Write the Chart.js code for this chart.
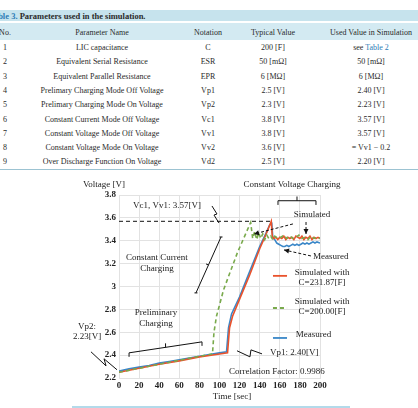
<!DOCTYPE html>
<html><head><meta charset="utf-8">
<script src="https://cdn.jsdelivr.net/npm/chart.js@4.4.0/dist/chart.umd.min.js"></script>
<style>
html,body{margin:0;padding:0;background:#fff;}
body{width:418px;height:408px;position:relative;overflow:hidden;font-family:"Liberation Serif","Times New Roman",serif;color:#2a2a2a;}
.band{position:absolute;left:0;width:418px;background:#c6e3ed;}
.cell{position:absolute;font-size:8px;white-space:nowrap;transform:translate(-50%,-50%);line-height:1;}
.blue{color:#2c7bb5;}
#cap{position:absolute;left:-11px;top:16px;transform:translateY(-50%);font-size:8.5px;font-weight:bold;white-space:nowrap;line-height:1;}
#chartBox{position:absolute;left:0;top:170px;width:418px;height:238px;}
</style></head><body>
<div class="band" style="top:10px;height:11px;"></div>
<div class="band" style="top:23px;height:17px;background:#d3eaf2;"></div>
<div id="cap"><span class="blue">Table 3.</span> Parameters used in the simulation.</div>
<div id="tbl"></div>
<div style="position:absolute;left:0;top:169px;width:418px;height:1px;background:#9cc3d2;"></div>
<div style="position:absolute;left:72px;top:406px;width:278px;height:2px;background:#b3daea;"></div>
<div id="chartBox"><canvas id="c" width="418" height="238"></canvas></div>
<script>
// ---------- table content ----------
const tableHeaders = ["No.", "Parameter Name", "Notation", "Typical Value", "Used Value in Simulation"];
const paramNo = ["1","2","3","4","5","6","7","8","9"];
const paramNames = ["LIC capacitance","Equivalent Serial Resistance","Equivalent Parallel Resistance","Prelimary Charging Mode Off Voltage","Prelimary Charging Mode On Voltage","Constant Current Mode Off Voltage","Constant Voltage Mode Off Voltage","Constant Voltage Mode On Voltage","Over Discharge Function On Voltage"];
const notations = ["C","ESR","EPR","Vp1","Vp2","Vc1","Vv1","Vv2","Vd2"];
const typicalValues = ["200 [F]","50 [mΩ]","6 [MΩ]","2.5 [V]","2.3 [V]","3.8 [V]","3.8 [V]","3.6 [V]","2.5 [V]"];
const usedValues = ["see Table 2","50 [mΩ]","6 [MΩ]","2.40 [V]","2.23 [V]","3.57 [V]","3.57 [V]","= Vv1 − 0.2","2.20 [V]"];

// ---------- chart data ----------
const xTicks = [0,20,40,60,80,100,120,140,160,180,200];
const xTickLabels = ["0","20","40","60","80","100","120","140","160","180","200"];
const yTicks = [2.2,2.4,2.6,2.8,3.0,3.2,3.4,3.6,3.8];
const yTickLabels = ["2.2","2.4","2.6","2.8","3","3.2","3.4","3.6","3.8"];

// Simulated with C=231.87[F]
const tRed = [0,20,40,60,80,100,108,110,113,120,130,140,146,151.5,152.5,154,156,158,160,162,164,166,168,170,172,174,176,178,180,182,184,186,188,190,192,194,196,198,200];
const vRed = [2.25,2.285,2.32,2.35,2.385,2.41,2.42,2.64,2.74,2.89,3.10,3.33,3.45,3.57,3.44,3.42,3.43,3.41,3.43,3.42,3.44,3.41,3.43,3.42,3.43,3.41,3.44,3.43,3.42,3.44,3.41,3.43,3.42,3.44,3.41,3.43,3.42,3.43,3.42];
// Simulated with C=200.00[F]
const tGreen = [0,20,40,60,80,93,94.5,97,104,118,131,133,135,137,139,141,143,145,147,149,151,153,155,158,161,164,167,170,173,176,179,182,185,188,191,194,197,200];
const vGreen = [2.25,2.285,2.32,2.355,2.39,2.41,2.60,2.74,2.97,3.30,3.56,3.42,3.48,3.41,3.47,3.42,3.46,3.41,3.45,3.42,3.44,3.41,3.44,3.42,3.43,3.45,3.42,3.44,3.42,3.43,3.45,3.42,3.43,3.41,3.44,3.42,3.43,3.42];
// Measured
const tBlue = [0,10,20,30,40,50,60,70,80,90,100,107,109,112,120,130,140,146,150,152,153,155,157,159,161,163,165,167,169,171,173,175,177,179,181,183,185,187,189,191,193,195,197,200];
const vBlue = [2.26,2.28,2.295,2.31,2.33,2.345,2.36,2.375,2.39,2.405,2.42,2.43,2.64,2.76,2.91,3.13,3.35,3.46,3.54,3.55,3.43,3.41,3.38,3.37,3.36,3.35,3.35,3.36,3.35,3.36,3.37,3.36,3.37,3.36,3.37,3.38,3.37,3.38,3.37,3.38,3.39,3.38,3.39,3.38];

const RED = '#e9522c', GREEN = '#79aa4c', BLUE = '#3a87c8';

// ---------- build table ----------
const colX = [5, 102, 208, 273, 371];
const headerY = 33;
const rowY = [48, 62, 77, 91, 105, 120, 134, 148, 162];
const tbl = document.getElementById('tbl');
function cell(html, x, y){ const d=document.createElement('div'); d.className='cell'; d.style.left=x+'px'; d.style.top=y+'px'; d.innerHTML=html; tbl.appendChild(d); }
tableHeaders.forEach((h,i)=>cell(h, colX[i], headerY));
const cols = [paramNo, paramNames, notations, typicalValues, usedValues];
rowY.forEach((y,r)=>{
  cols.forEach((col,c)=>{
    let s = col[r];
    if (s === "see Table 2") s = 'see <span class="blue">Table 2</span>';
    cell(s, colX[c], y);
  });
});

// ---------- chart ----------
const pairs = (ts, vs) => ts.map((t,i)=>({x:t, y:vs[i]}));
const SERIF = '"Liberation Serif", "Times New Roman", serif';

const annot = {
  id: 'annot',
  afterDraw(chart){
    const {ctx, scales:{x, y}} = chart;
    const X = t => x.getPixelForValue(t), Y = v => y.getPixelForValue(v);
    ctx.save();
    const text = (s, t, v, align='center', size=9) => {
      ctx.font = size + 'px ' + SERIF; ctx.fillStyle = '#222';
      ctx.textAlign = align; ctx.textBaseline = 'middle';
      ctx.fillText(s, X(t), Y(v));
    };
    const poly = (pts, dash=[], color='#111', w=1) => {
      ctx.beginPath(); ctx.setLineDash(dash); ctx.strokeStyle = color; ctx.lineWidth = w;
      pts.forEach((p,i)=> i ? ctx.lineTo(X(p[0]),Y(p[1])) : ctx.moveTo(X(p[0]),Y(p[1])));
      ctx.stroke(); ctx.setLineDash([]);
    };
    const arrow = (a, b) => {
      poly([a,b],[3,2]);
      const x1=X(a[0]), y1=Y(a[1]), x2=X(b[0]), y2=Y(b[1]);
      const ang = Math.atan2(y2-y1, x2-x1), L=5, W=2.5;
      ctx.beginPath(); ctx.fillStyle='#111';
      ctx.moveTo(x2,y2);
      ctx.lineTo(x2 - L*Math.cos(ang) + W*Math.sin(ang), y2 - L*Math.sin(ang) - W*Math.cos(ang));
      ctx.lineTo(x2 - L*Math.cos(ang) - W*Math.sin(ang), y2 - L*Math.sin(ang) + W*Math.cos(ang));
      ctx.closePath(); ctx.fill();
    };
    // titles
    text('Voltage [V]', -14.9, 3.887);
    text('Constant Voltage Charging', 172.1, 3.887);
    text('Time [sec]', 112.4, 2.036);
    // CV brace
    poly([[158.2,3.713],[158.2,3.750],[196,3.750],[196,3.713]]);
    poly([[177.1,3.750],[177.1,3.787]]);
    // Vc1 label, 3.57 dashed line
    poly([[0,3.57],[153,3.57]],[4,3]);
    text('Vc1, Vv1: 3.57[V]', 13.9, 3.704, 'left');
    poly([[92.5,3.704],[97.5,3.634],[94.5,3.625],[99.5,3.555]]);
    // Constant current
    text('Constant Current', 37.8, 3.250);
    text('Charging', 37.8, 3.154);
    poly([[76.6,2.944],[101.5,3.433]]);
    poly([[75.1,2.944],[78.1,2.944]]);
    poly([[100,3.433],[103,3.433]]);
    poly([[89.1,3.188],[86.6,3.197]]);
    // Preliminary
    text('Preliminary', 36.8, 2.769);
    text('Charging', 36.8, 2.673);
    poly([[10,2.385],[10,2.420],[82.6,2.516],[82.6,2.481]]);
    poly([[46.3,2.468],[46.3,2.503]]);
    text('Vp2:', -31.8, 2.647);
    text('2.23[V]', -31.8, 2.560);
    poly([[-27.9,2.429],[-12.9,2.306],[-14.9,2.368],[-2.0,2.272]]);
    // Vp1
    text('Vp1: 2.40[V]', 150.2, 2.420, 'left');
    poly([[117.4,2.438],[130.3,2.385],[131.3,2.446],[142.3,2.411]]);
    text('Correlation Factor: 0.9986', 157.2, 2.254);
    // Simulated / Measured callouts
    text('Simulated', 192.0, 3.625);
    arrow([173.1,3.547],[134.3,3.459]);
    arrow([186.1,3.564],[186.1,3.459]);
    text('Measured', 193, 3.258, 'left');
    arrow([191,3.267],[164.2,3.320]);
    // legend
    const ds = chart.data.datasets;
    poly([[153.2,3.093],[167.2,3.093]], [], ds[0].borderColor, 1.8);
    text('Simulated with', 202, 3.118);
    text('C=231.87[F]', 202, 3.031);
    poly([[153.2,2.812],[167.2,2.812]], [4,3], ds[1].borderColor, 1.8);
    text('Simulated with', 202, 2.865);
    text('C=200.00[F]', 202, 2.778);
    poly([[153.2,2.550],[167.2,2.550]], [], ds[2].borderColor, 1.8);
    text('Measured', 193.5, 2.576);
    ctx.restore();
  }
};

const GRID = '#e2e2e2';
new Chart(document.getElementById('c').getContext('2d'), {
  type: 'line',
  data: { datasets: [
    { label: 'Simulated with C=231.87[F]', data: pairs(tRed, vRed), borderColor: RED, borderWidth: 1.6, pointRadius: 0, tension: 0, order: 1 },
    { label: 'Simulated with C=200.00[F]', data: pairs(tGreen, vGreen), borderColor: GREEN, borderWidth: 1.6, borderDash: [4,3], pointRadius: 0, tension: 0, order: 0 },
    { label: 'Measured', data: pairs(tBlue, vBlue), borderColor: BLUE, borderWidth: 1.6, pointRadius: 0, tension: 0, order: 2 }
  ]},
  options: {
    responsive: false, animation: false,
    layout: { padding: { left: 89, right: 98, top: 25, bottom: 0 } },
    plugins: { legend: { display: false }, tooltip: { enabled: false } },
    scales: {
      x: {
        type: 'linear', min: 0, max: 200,
        afterBuildTicks: s => { s.ticks = xTicks.map(v => ({ value: v })); },
        afterFit: s => { s.height = 30; },
        ticks: { padding: 2, color: '#222', font: { family: SERIF, size: 9, weight: 'bold' },
          callback: v => { const i = xTicks.indexOf(v); return i >= 0 ? xTickLabels[i] : ''; } },
        grid: { color: GRID, drawTicks: false }, border: { color: GRID }
      },
      y: {
        min: 2.2, max: 3.8,
        afterBuildTicks: s => { s.ticks = yTicks.map(v => ({ value: v })); },
        afterFit: s => { s.width = 30; },
        ticks: { padding: 3, color: '#222', font: { family: SERIF, size: 9, weight: 'bold' },
          callback: v => { const i = yTicks.findIndex(a => Math.abs(a - v) < 1e-6); return i >= 0 ? yTickLabels[i] : ''; } },
        grid: { color: GRID, drawTicks: false }, border: { color: GRID }
      }
    }
  },
  plugins: [annot]
});
</script>
</body></html>
